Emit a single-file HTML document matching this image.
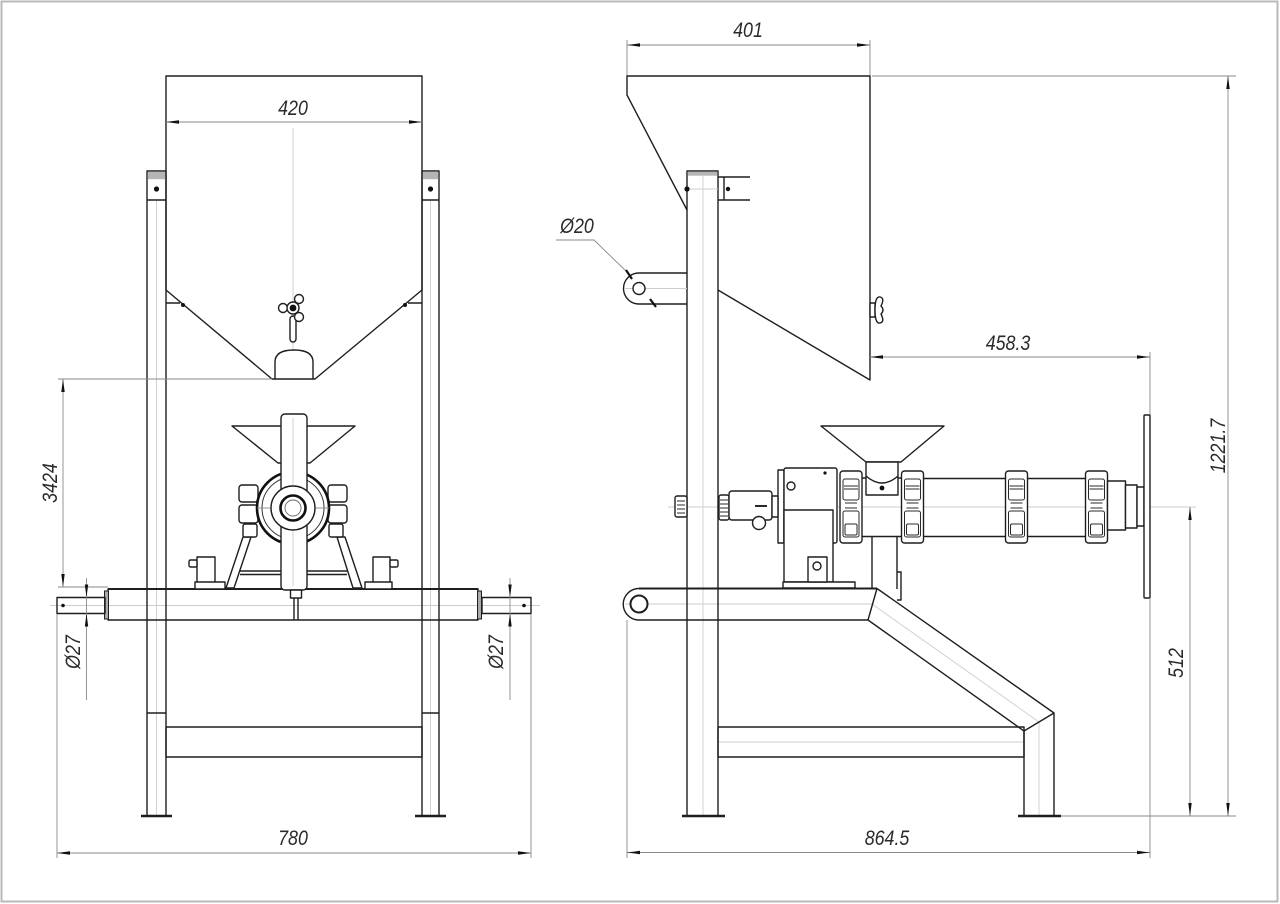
<!DOCTYPE html>
<html><head><meta charset="utf-8"><style>
html,body{margin:0;padding:0;background:#fff;}
svg{display:block;}
.k{fill:none;stroke:#1e1e1e;stroke-width:1.4;stroke-linejoin:round}
.w{fill:#fff;stroke:#1e1e1e;stroke-width:1.4;stroke-linejoin:round}
.n{fill:none;stroke:#2a2a2a;stroke-width:1}
.t{fill:none;stroke:#8a8a8a;stroke-width:0.9}
.c{fill:none;stroke:#cdcdcd;stroke-width:0.9}
.a{fill:#111}
.f{stroke:#1e1e1e;stroke-width:2.4}
text{font-family:"Liberation Sans",sans-serif;font-style:italic;font-size:21px;fill:#2a2a2a}
</style></head><body>
<svg width="1280" height="904" viewBox="0 0 1280 904" xmlns="http://www.w3.org/2000/svg">
<rect x="1.5" y="1.5" width="1276" height="900" fill="none" stroke="#b8b8b8" stroke-width="2"/>

<!-- ================= LEFT VIEW ================= -->
<!-- center lines -->
<line class="c" x1="293" y1="128" x2="293" y2="350"/>
<line class="c" x1="50" y1="605.5" x2="540" y2="605.5"/>
<line class="c" x1="156.5" y1="200" x2="156.5" y2="816"/>
<line class="c" x1="430.5" y1="200" x2="430.5" y2="816"/>

<!-- posts -->
<rect class="k" x="147" y="171" width="19" height="645"/>
<rect x="147.7" y="171.7" width="17.6" height="7.5" fill="#b5b5b5"/>
<line class="k" x1="147" y1="200" x2="166" y2="200"/>
<circle cx="156.5" cy="189" r="2.6" class="a"/>
<line class="k" x1="147" y1="713" x2="166" y2="713"/>
<line class="f" x1="141" y1="816" x2="172" y2="816"/>

<rect class="k" x="422" y="171" width="17" height="645"/>
<rect x="422.7" y="171.7" width="15.6" height="7.5" fill="#b5b5b5"/>
<line class="k" x1="422" y1="200" x2="439" y2="200"/>
<circle cx="430.5" cy="189" r="2.6" class="a"/>
<line class="k" x1="422" y1="713" x2="439" y2="713"/>
<line class="f" x1="415" y1="816" x2="446" y2="816"/>

<!-- hopper -->
<path class="k" d="M166,290 V76 H422 V290 L315,379 H272 Z" stroke-width="1.5"/>
<path class="k" d="M166,303 H180 M408,303 H422"/>
<circle cx="183" cy="305" r="2" class="a"/>
<circle cx="405" cy="305" r="2" class="a"/>
<!-- knob -->
<rect class="w" x="290" y="316" width="6" height="26" rx="3"/>
<circle class="w" cx="283" cy="308" r="4.5"/>
<circle class="w" cx="299" cy="299" r="4.5"/>
<circle class="w" cx="299" cy="317" r="4.5"/>
<circle class="w" cx="293" cy="308" r="6" stroke="none"/>
<circle cx="293" cy="308" r="3.4" class="a"/>
<!-- dome -->
<path class="k" d="M275,379 V362 Q275,350 294,350 Q313,350 313,362 V379"/>

<!-- 420 dim -->
<line class="t" x1="166" y1="122" x2="422" y2="122"/>
<polygon class="a" points="166,122 179,120.3 179,123.7"/>
<polygon class="a" points="422,122 409,120.3 409,123.7"/>
<g transform="translate(293,115) scale(0.85,1)"><text text-anchor="middle">420</text></g>

<!-- beam -->
<rect class="k" x="108" y="589" width="370" height="31"/>
<line x1="108" y1="589" x2="478" y2="589" stroke="#1e1e1e" stroke-width="2"/>
<rect x="104.5" y="591" width="4" height="28" fill="#aaa" stroke="#1e1e1e" stroke-width="1"/>
<rect x="477.5" y="591" width="4" height="28" fill="#aaa" stroke="#1e1e1e" stroke-width="1"/>
<rect class="k" x="57" y="597.5" width="48" height="16"/>
<rect class="k" x="482" y="597.5" width="49" height="16"/>
<circle cx="63" cy="605.5" r="1.8" class="a"/>
<circle cx="524" cy="605.5" r="1.8" class="a"/>

<!-- bottom crossbar -->
<rect class="k" x="166" y="727" width="256" height="30"/>

<!-- mill left view -->
<polygon class="w" points="232,426 355,426 310,463 278,463"/>
<!-- legs -->
<polygon class="w" points="243,537 251,537 234,588 226,588"/>
<polygon class="w" points="337,537 345,537 362,588 353,588"/>
<path class="k" d="M240,571 H347 M240,574.5 H347" stroke-width="1.2"/>
<!-- small blocks -->
<rect class="w" x="197" y="557" width="18" height="27"/>
<rect class="w" x="195" y="582" width="30" height="7"/>
<rect class="w" x="189" y="560" width="8" height="7" rx="1.5"/>
<rect class="w" x="373" y="557" width="17" height="27"/>
<rect class="w" x="365" y="582" width="27" height="7"/>
<rect class="w" x="390" y="560" width="8" height="7" rx="1.5"/>
<!-- bolts -->
<rect class="w" x="239" y="485" width="19" height="17" rx="3"/>
<rect class="w" x="239" y="505" width="19" height="18" rx="3"/>
<rect class="w" x="243" y="524" width="14" height="13" rx="2"/>
<rect class="w" x="328" y="485" width="19" height="17" rx="3"/>
<rect class="w" x="328" y="505" width="19" height="18" rx="3"/>
<rect class="w" x="329" y="524" width="14" height="13" rx="2"/>
<!-- rings -->
<circle cx="293" cy="508" r="36" fill="#fff" stroke="#111" stroke-width="2.6"/>
<circle cx="293" cy="508" r="31" fill="none" stroke="#333" stroke-width="1"/>
<line class="t" x1="257" y1="508" x2="272" y2="508"/>
<line class="t" x1="314" y1="508" x2="329" y2="508"/>
<!-- vertical bar -->
<rect class="w" x="281" y="414" width="26" height="176" rx="4"/>
<line class="c" x1="293" y1="418" x2="293" y2="586"/>
<circle cx="293" cy="508" r="22" fill="#fff" stroke="#1e1e1e" stroke-width="1.4"/>
<circle cx="293" cy="508" r="12.5" fill="#fff" stroke="#111" stroke-width="2.6"/>
<circle cx="293" cy="508" r="8" fill="none" stroke="#666" stroke-width="0.9"/>
<!-- stem below -->
<rect class="w" x="290.5" y="590" width="11" height="8"/>
<path class="k" d="M294,598 V620 M298,598 V620" stroke-width="1.1"/>

<!-- 3424 dim -->
<line class="t" x1="58" y1="379" x2="272" y2="379"/>
<line class="t" x1="58" y1="587" x2="108" y2="587"/>
<line class="t" x1="63" y1="379" x2="63" y2="587"/>
<polygon class="a" points="63,379 61.3,392 64.7,392"/>
<polygon class="a" points="63,587 61.3,574 64.7,574"/>
<g transform="translate(57,483) rotate(-90) scale(0.85,1)"><text text-anchor="middle">3424</text></g>

<!-- Ø27 dims -->
<line class="t" x1="86.5" y1="578" x2="86.5" y2="700"/>
<polygon class="a" points="86.5,597.5 84.8,584.5 88.2,584.5"/>
<polygon class="a" points="86.5,613.5 84.8,626.5 88.2,626.5"/>
<g transform="translate(80,652) rotate(-90) scale(0.85,1)"><text text-anchor="middle">Ø27</text></g>
<line class="t" x1="510" y1="578" x2="510" y2="700"/>
<polygon class="a" points="510,597.5 508.3,584.5 511.7,584.5"/>
<polygon class="a" points="510,613.5 508.3,626.5 511.7,626.5"/>
<g transform="translate(503,652) rotate(-90) scale(0.85,1)"><text text-anchor="middle">Ø27</text></g>

<!-- 780 dim -->
<line class="t" x1="57" y1="614" x2="57" y2="858"/>
<line class="t" x1="531" y1="614" x2="531" y2="858"/>
<line class="t" x1="57" y1="853" x2="531" y2="853"/>
<polygon class="a" points="57,853 70,851.3 70,854.7"/>
<polygon class="a" points="531,853 518,851.3 518,854.7"/>
<g transform="translate(293,845) scale(0.85,1)"><text text-anchor="middle">780</text></g>

<!-- ================= RIGHT VIEW ================= -->
<!-- 401 dim -->
<line class="t" x1="627" y1="40" x2="627" y2="76"/>
<line class="t" x1="870" y1="40" x2="870" y2="76"/>
<line class="t" x1="627" y1="45" x2="870" y2="45"/>
<polygon class="a" points="627,45 640,43.3 640,46.7"/>
<polygon class="a" points="870,45 857,43.3 857,46.7"/>
<g transform="translate(748,37) scale(0.85,1)"><text text-anchor="middle">401</text></g>

<!-- 1221.7 dim -->
<line class="t" x1="872" y1="76" x2="1236" y2="76"/>
<line class="t" x1="1228" y1="76" x2="1228" y2="816"/>
<polygon class="a" points="1228,76 1226.3,89 1229.7,89"/>
<polygon class="a" points="1228,816 1226.3,803 1229.7,803"/>
<g transform="translate(1225,446) rotate(-90) scale(0.85,1)"><text text-anchor="middle">1221.7</text></g>

<!-- center lines right -->
<line class="c" x1="703" y1="176" x2="703" y2="816"/>
<line class="c" x1="668" y1="507" x2="1196" y2="507"/>
<line class="c" x1="625" y1="604" x2="872" y2="604"/>
<line class="c" x1="872" y1="604" x2="1039" y2="722"/>
<line class="c" x1="1039" y1="722" x2="1039" y2="816"/>
<line class="c" x1="718" y1="742" x2="1024" y2="742"/>

<!-- post right view -->
<rect class="k" x="687" y="171" width="31" height="645"/>
<rect x="687.7" y="171.7" width="29.6" height="4" fill="#b5b5b5"/>
<line class="c" x1="687" y1="189" x2="718" y2="189"/>
<circle cx="687" cy="189" r="2.6" class="a"/>
<path class="k" d="M718,177 H750 M718,200 H750 M724,177 V200"/>
<circle cx="728" cy="189" r="2.2" class="a"/>
<line class="f" x1="682" y1="816" x2="725" y2="816"/>

<!-- hopper right view -->
<path class="k" d="M687,210 L627,95 V76 H870 V380 L718,290" stroke-width="1.5"/>
<!-- knob on hopper -->
<rect class="w" x="870" y="303" width="5" height="14"/>
<path class="w" d="M875,310 Q875,296 880,297 Q885,298 881,306 Q885,310 881,314 Q885,322 880,323 Q875,324 875,310 Z"/>

<!-- pivot arm -->
<path class="k" d="M687,273 H639 A15.5,15.5 0 0,0 639,304 H687"/>
<line class="c" x1="625" y1="288.5" x2="687" y2="288.5"/>
<circle class="w" cx="639" cy="288.5" r="6"/>
<polyline class="t" points="556,240 594,240 628,273"/>
<line x1="626" y1="270" x2="632" y2="279" stroke="#111" stroke-width="2.2"/>
<line x1="650" y1="299" x2="656" y2="307" stroke="#111" stroke-width="2.2"/>
<g transform="translate(577,233) scale(0.85,1)"><text text-anchor="middle">Ø20</text></g>

<!-- 458.3 dim -->
<line class="t" x1="870" y1="357" x2="1150" y2="357"/>
<line class="t" x1="1150" y1="352" x2="1150" y2="415"/>
<polygon class="a" points="870,357 883,355.3 883,358.7"/>
<polygon class="a" points="1150,357 1137,355.3 1137,358.7"/>
<g transform="translate(1008,350) scale(0.85,1)"><text text-anchor="middle">458.3</text></g>

<!-- frame right view -->
<path class="k" d="M639,620 A15.75,15.75 0 0,1 639,588.5"/>
<line x1="639" y1="588.5" x2="877" y2="588.5" stroke="#1e1e1e" stroke-width="2"/>
<path class="k" d="M877,588.5 L1054,713 V816 M1024,816 V731 L868,620 H639"/>
<path class="k" d="M877,588.5 L868,620 M1054,713 L1024,731"/>
<circle cx="639" cy="604" r="8.5" fill="#fff" stroke="#1e1e1e" stroke-width="2"/>
<rect class="k" x="718" y="727" width="306" height="30"/>
<line class="f" x1="1018" y1="816" x2="1061" y2="816"/>

<!-- support under throat -->
<path class="k" d="M872,537 V589 M897,537 V589"/>
<path class="k" d="M897,572 H901 V600 H897"/>

<!-- gearbox -->
<rect class="w" x="778" y="470" width="6" height="73"/>
<rect class="w" x="784" y="468" width="53" height="75" rx="2"/>
<rect class="w" x="784" y="510" width="49" height="72"/>
<rect class="w" x="783" y="582" width="72" height="6"/>
<rect class="w" x="808" y="557" width="19" height="25"/>
<circle class="w" cx="817" cy="566" r="4"/>
<circle class="w" cx="791" cy="486" r="4"/>
<circle cx="825" cy="473" r="1.6" class="a"/>

<!-- motor shaft -->
<rect class="w" x="675" y="496" width="12" height="21" rx="2"/>
<path class="n" d="M677,501 H685 M677,505 H685 M677,509 H685 M677,513 H685"/>
<rect class="w" x="719" y="495" width="10" height="25" rx="2"/>
<path class="n" d="M720,500 H728 M720,504 H728 M720,508 H728 M720,512 H728 M720,516 H728"/>
<rect class="w" x="729" y="491" width="43" height="29" rx="3"/>
<rect class="w" x="772" y="496" width="6" height="21"/>
<line x1="755" y1="506" x2="767" y2="506" stroke="#111" stroke-width="1.8"/>
<circle class="w" cx="759" cy="523" r="6.5"/>

<!-- funnel right view -->
<polygon class="w" points="821,426 944,426 901,462 866,462"/>
<!-- throat -->
<path class="w" d="M866,462 H898 V495 H866 Z"/>
<path class="k" d="M866,476 Q882,490 898,476"/>
<circle cx="882" cy="488" r="2.4" class="a"/>
<path class="k" d="M862,478 H866 M898,478 H902 M862,536.5 H902"/>

<!-- barrel segments -->
<path class="k" d="M923,478.5 H1006 M923,536.5 H1006 M1027,478.5 H1086 M1027,536.5 H1086"/>

<!-- clamps -->
<g id="cl">
<rect class="w" x="840" y="471" width="22" height="72" rx="3"/>
<rect class="n" x="843" y="479" width="16" height="21" rx="2"/>
<path class="n" d="M844,486 H858 M844,489 H858 M845,503 H857 M845,508 H857"/>
<rect class="n" x="843" y="511" width="16" height="26" rx="2"/>
<rect class="n" x="845" y="524" width="12" height="11" rx="1.5"/>
</g>
<use href="#cl" x="61.5"/>
<use href="#cl" x="165.5"/>
<use href="#cl" x="245.5"/>

<!-- die steps and disc -->
<rect class="w" x="1107.5" y="481" width="18" height="49"/>
<rect class="w" x="1125.5" y="485" width="11.5" height="43"/>
<rect class="w" x="1137" y="487" width="7" height="39"/>
<rect class="w" x="1144" y="415" width="6" height="183" rx="1"/>

<!-- 864.5 dim -->
<line class="t" x1="627" y1="620" x2="627" y2="858"/>
<line class="t" x1="1150" y1="598" x2="1150" y2="858"/>
<line class="t" x1="627" y1="852.5" x2="1150" y2="852.5"/>
<polygon class="a" points="627,852.5 640,850.8 640,854.2"/>
<polygon class="a" points="1150,852.5 1137,850.8 1137,854.2"/>
<g transform="translate(887,845) scale(0.85,1)"><text text-anchor="middle">864.5</text></g>

<!-- 512 dim -->
<line class="t" x1="1061" y1="816" x2="1236" y2="816"/>
<line class="t" x1="1190" y1="507" x2="1190" y2="816"/>
<polygon class="a" points="1190,507 1188.3,520 1191.7,520"/>
<polygon class="a" points="1190,816 1188.3,803 1191.7,803"/>
<g transform="translate(1183,663) rotate(-90) scale(0.85,1)"><text text-anchor="middle">512</text></g>
</svg>
</body></html>
